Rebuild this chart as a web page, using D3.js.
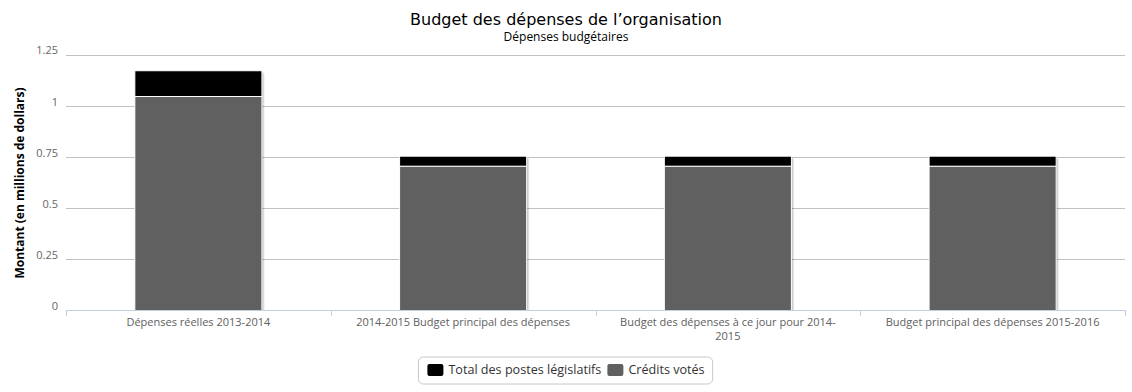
<!DOCTYPE html>
<html>
<head>
<meta charset="utf-8">
<script src="https://cdn.jsdelivr.net/npm/d3@7"></script>
<style>
  html, body { margin: 0; padding: 0; background: #fff; }
  svg { display: block; font-family: "Open Sans", "DejaVu Sans", sans-serif; }
</style>
</head>
<body>
<svg id="chart" width="1132" height="392"></svg>
<script>
const categories = [
  "Dépenses réelles 2013-2014",
  "2014-2015 Budget principal des dépenses",
  "Budget des dépenses à ce jour pour 2014-2015",
  "Budget principal des dépenses 2015-2016"
];
const creditsVotes = [1.047, 0.706, 0.706, 0.706];
const postesLegislatifs = [0.126, 0.049, 0.049, 0.049];
const seriesNames = ["Total des postes législatifs", "Crédits votés"];
const seriesColors = ["#000000", "#606060"];
const yTicks = [0, 0.25, 0.5, 0.75, 1, 1.25];
const yTickLabels = ["0", "0.25", "0.5", "0.75", "1", "1.25"];

const svg = d3.select("#chart");
const margin = { left: 66, right: 7, top: 55, bottom: 82 };
const W = 1132, H = 392;
const x = d3.scaleBand().domain(categories).range([margin.left, W - margin.right]).paddingInner(0).paddingOuter(0);
const y = d3.scaleLinear().domain([0, 1.25]).range([310.5, 55]);

// Title
svg.append("text").attr("x", 566).attr("y", 25).attr("text-anchor", "middle")
  .attr("font-family", "DejaVu Sans, sans-serif")
  .attr("font-size", 16).attr("fill", "#000").text("Budget des dépenses de l’organisation");
svg.append("text").attr("x", 566).attr("y", 41).attr("text-anchor", "middle")
  .attr("font-size", 12).attr("fill", "#000").text("Dépenses budgétaires");

// Gridlines
const grid = svg.append("g");
grid.selectAll("line").data(yTicks.filter(d => d > 0)).join("line")
  .attr("x1", margin.left).attr("x2", W - margin.right)
  .attr("y1", d => Math.round(y(d)) + 0.5).attr("y2", d => Math.round(y(d)) + 0.5)
  .attr("stroke", "#c0c0c0").attr("stroke-width", 1);

// Y axis labels
const yAxis = d3.axisLeft(y).tickValues(yTicks).tickFormat((d, i) => yTickLabels[i]).tickSize(0).tickPadding(0);
const yg = svg.append("g").attr("transform", `translate(${margin.left - 8},0)`).call(yAxis);
yg.select(".domain").remove();
yg.selectAll("text").attr("font-size", 11).attr("fill", "#666").attr("font-family", "Open Sans, DejaVu Sans, sans-serif").attr("dy", "-0.1em");

// Y axis title
svg.append("text").attr("transform", "translate(24,183) rotate(-90)").attr("text-anchor", "middle")
  .attr("font-size", 12).attr("font-weight", "bold").attr("fill", "#000")
  .text("Montant (en millions de dollars)");

// Stacked data
const stackData = categories.map((c, i) => ({ cat: c, credits: creditsVotes[i], postes: postesLegislatifs[i] }));
const stack = d3.stack().keys(["credits", "postes"]);
const layers = stack(stackData);
const colorByKey = { credits: seriesColors[1], postes: seriesColors[0] };
const barW = x.bandwidth() * 0.48;
const bx = d => x(d.data.cat) + (x.bandwidth() - barW) / 2;

// shadows
const shadowG = svg.append("g");
[3, 2, 1].forEach((off, k) => {
  shadowG.selectAll(null).data(layers[1]).join("rect")
    .attr("x", d => bx(d) + off).attr("y", d => y(d[1]) + off)
    .attr("width", barW).attr("height", d => y(0) - y(d[1]) - off)
    .attr("fill", "#000").attr("opacity", 0.05 * (k + 1));
});

const barsG = svg.append("g");
layers.forEach(layer => {
  barsG.selectAll(null).data(layer).join("rect")
    .attr("x", d => bx(d)).attr("y", d => y(d[1]))
    .attr("width", barW).attr("height", d => y(d[0]) - y(d[1]))
    .attr("fill", colorByKey[layer.key])
    .attr("stroke", "#ffffff").attr("stroke-width", 1);
});

// X axis
const xg = svg.append("g");
xg.append("line").attr("x1", margin.left).attr("x2", W - margin.right)
  .attr("y1", 310.5).attr("y2", 310.5).attr("stroke", "#c0d0e0").attr("stroke-width", 1);
const boundaries = categories.map(c => x(c)).concat([x(categories[categories.length - 1]) + x.bandwidth()]);
xg.selectAll("line.tick").data(boundaries).join("line").attr("class", "tick")
  .attr("x1", d => Math.round(d) + 0.5).attr("x2", d => Math.round(d) + 0.5)
  .attr("y1", 310).attr("y2", 316).attr("stroke", "#c0d0e0");

const labelMax = 225;
categories.forEach(c => {
  const t = xg.append("text").attr("x", x(c) + x.bandwidth() / 2).attr("y", 326)
    .attr("text-anchor", "middle").attr("font-size", 11).attr("fill", "#606060");
  const tokens = c.split(/(?<=[ -])/);
  let line = "", lines = [];
  const probe = t.append("tspan");
  tokens.forEach(tok => {
    const test = line + tok;
    probe.text(test.trim());
    if (probe.node().getComputedTextLength() > labelMax && line) {
      lines.push(line.trim());
      line = tok;
    } else line = test;
  });
  lines.push(line.trim());
  probe.remove();
  lines.forEach((l, i) => {
    t.append("tspan").attr("x", x(c) + x.bandwidth() / 2).attr("dy", i === 0 ? 0 : 14).text(l);
  });
});

// Legend
const legend = svg.append("g");
const items = legend.selectAll("g").data(seriesNames).join("g");
let cx = 0;
items.each(function(d, i) {
  const g = d3.select(this);
  g.append("rect").attr("x", 0).attr("y", -6).attr("width", 16).attr("height", 12).attr("rx", 2)
    .attr("fill", seriesColors[i]);
  const tx = g.append("text").attr("x", 21).attr("y", 4).attr("font-size", 12.6).attr("fill", "#333").text(d);
  const w = 21 + tx.node().getComputedTextLength();
  g.attr("transform", `translate(${cx},0)`);
  cx += w + 6;
});
const totalW = cx - 6;
const lx = 566 - totalW / 2;
legend.insert("rect", ":first-child").attr("x", -9).attr("y", -13).attr("width", totalW + 17).attr("height", 27)
  .attr("rx", 5).attr("fill", "#fff").attr("stroke", "#c8c8c8");
legend.attr("transform", `translate(${lx},370)`);
</script>
</body>
</html>
